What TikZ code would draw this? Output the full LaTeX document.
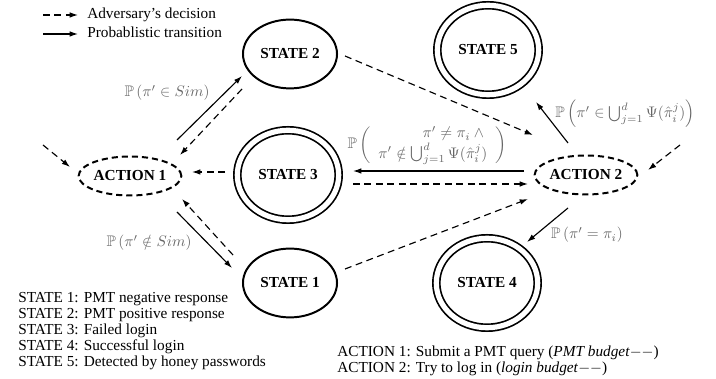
\documentclass[tikz,border=0pt]{standalone}
\usepackage{amsmath,amssymb}
\usepackage{fontspec}
\setmainfont{Liberation Serif}
\usetikzlibrary{arrows.meta,shapes.geometric}
\begin{document}
\begin{tikzpicture}[x=0.654pt,y=-0.654pt,
  every node/.style={font=\fontsize{10}{12}\selectfont},
  st/.style={ellipse,draw,line width=1.3pt,minimum width=61.5pt,minimum height=45pt,inner sep=0pt,font=\fontsize{10}{12}\selectfont\bfseries},
  dst/.style={ellipse,draw,line width=1.1pt,double,double distance=3.4pt,minimum width=66.3pt,minimum height=58.5pt,inner sep=0pt,font=\fontsize{10}{12}\selectfont\bfseries},
  act/.style={ellipse,draw,line width=1.3pt,dash pattern=on 4pt off 2.6pt,minimum width=64.7pt,minimum height=25.5pt,inner sep=0pt,font=\fontsize{10}{12}\selectfont\bfseries},
  prob/.style={-{Latex[length=5.4pt,width=3.6pt]},line width=0.75pt},
  dec/.style={prob,dash pattern=on 4.5pt off 3pt},
  lab/.style={text=black!60,inner sep=0pt},
  leg/.style={anchor=base west,inner sep=0pt}]
\useasboundingbox (0,0) rectangle (716,379);

% legend (top)
\node[leg] (l1) at (87,19) {Adversary's decision};
\node[leg] (l2) at (87,38) {Probablistic transition};
\coordinate (l1a) at (43,15);
\coordinate (l1b) at (78,15);
\coordinate (l2a) at (43,34);
\coordinate (l2b) at (78,34);
\draw[dec] (l1a) -- (l1b);
\draw[prob] (l2a) -- (l2b);

% nodes
\node[act] (a1) at (130,176) {ACTION 1};
\node[st]  (s2) at (290,54)  {STATE 2};
\node[dst] (s3) at (288,175) {STATE 3};
\node[st]  (s1) at (290,283) {STATE 1};
\node[dst] (s5) at (488,50)  {STATE 5};
\node[dst] (s4) at (487,283) {STATE 4};
\node[act] (a2) at (586,175) {ACTION 2};

% free ends
\coordinate (in1) at (43,145);
\coordinate (in2) at (680,145);

% connectors
\draw[dec]  (in1) -- ([shift={(-60,-9)}]a1.center);
\draw[prob] ([shift={(47,-36)}]a1.center) -- ([shift={(-48,22)}]s2.center);
\draw[dec]  ([shift={(-48,35)}]s2.center) -- ([shift={(50,-21)}]a1.center);
\draw[dec]  ([shift={(-63,-3)}]s3.center) -- ([shift={(62,-4)}]a1.center);
\draw[prob] ([shift={(47,36)}]a1.center) -- ([shift={(-58,-15)}]s1.center);
\draw[dec]  ([shift={(-57,-28)}]s1.center) -- ([shift={(52,23)}]a1.center);
\draw[dec]  ([shift={(55,2)}]s2.center) -- ([shift={(-53,-40)}]a2.center);
\draw[prob] ([shift={(-18,-32)}]a2.center) -- ([shift={(48,52)}]s5.center);
\draw[dec]  (in2) -- ([shift={(62,-5)}]a2.center);
\draw[prob] ([shift={(-62,-4)}]a2.center) -- ([shift={(65,-4)}]s3.center);
\draw[dec]  ([shift={(65,9)}]s3.center) -- ([shift={(-58,9)}]a2.center);
\draw[dec]  ([shift={(55,-14)}]s1.center) -- ([shift={(-58,24)}]a2.center);
\draw[prob] ([shift={(-18,33)}]a2.center) -- ([shift={(40,-41)}]s4.center);

% probability labels
\node[lab] (p1) at (167,93)  {$\mathbb{P}\left(\pi' \in Sim\right)$};
\node[lab] (p2) at (149,243) {$\mathbb{P}\left(\pi' \notin Sim\right)$};
\node[lab] (p3) at (625,114) {$\mathbb{P}\left(\pi' \in \bigcup_{j=1}^{d} \Psi(\hat{\pi}_i^j)\right)$};
\node[lab] (p4) at (427,145) {$\mathbb{P}\left(\begin{array}{r}\pi' \neq \pi_i \wedge{}\\ \pi' \notin \bigcup_{j=1}^{d}\Psi(\hat{\pi}_i^j)\end{array}\right)$};
\node[lab] (p5) at (587,235) {$\mathbb{P}\left(\pi' = \pi_i\right)$};

% legend (bottom left)
\node[leg] (t1) at (18,303) {STATE 1: PMT negative response};
\node[leg] (t2) at (18,319) {STATE 2: PMT positive response};
\node[leg] (t3) at (18,335) {STATE 3: Failed login};
\node[leg] (t4) at (18,351) {STATE 4: Successful login};
\node[leg] (t5) at (18,367) {STATE 5: Detected by honey passwords};

% legend (bottom right)
\node[leg] (u1) at (337,357) {ACTION 1: Submit a PMT query (\textit{PMT budget}$--$)};
\node[leg] (u2) at (337,373) {ACTION 2: Try to log in (\textit{login budget}$--$)};
\end{tikzpicture}
\end{document}
